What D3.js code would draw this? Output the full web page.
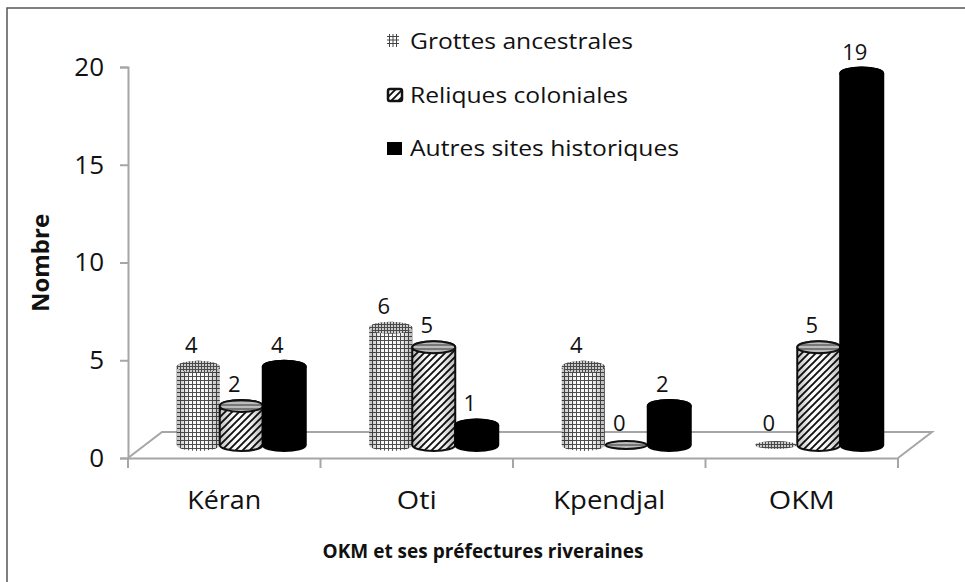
<!DOCTYPE html>
<html>
<head>
<meta charset="utf-8">
<script src="https://cdn.jsdelivr.net/npm/d3@7"></script>
<style>
  body { margin: 0; background: #fff; }
  svg text { font-family: "Open Sans", sans-serif; fill: #111; }
</style>
</head>
<body>
<div id="chart"></div>
<script>
// Data
const categories = ["Kéran", "Oti", "Kpendjal", "OKM"];
const seriesNames = ["Grottes ancestrales", "Reliques coloniales", "Autres sites historiques"];
const grottes = [4, 6, 4, 0];
const reliques = [2, 5, 0, 5];
const autres = [4, 1, 2, 19];
const yTicks = [0, 5, 10, 15, 20];

const width = 965, height = 582;
const depth = { dx: 34, dy: -26 };   // floor depth offset (front -> back)

// text widths of the original (its font is wider than ours)
const catTextWidth = { "Kéran": 74, "Oti": 40, "Kpendjal": 112, "OKM": 66 };
const legendTextWidth = [223, 218, 269];

const svg = d3.select("#chart").append("svg")
    .attr("width", width)
    .attr("height", height);

// patterns
const defs = svg.append("defs");
function pat(id, w, h, bg, path, stroke, sw) {
    const p = defs.append("pattern").attr("id", id)
        .attr("patternUnits", "userSpaceOnUse")
        .attr("width", w).attr("height", h);
    p.append("rect").attr("width", w).attr("height", h).attr("fill", bg);
    p.append("path").attr("d", path).attr("stroke", stroke).attr("stroke-width", sw).attr("fill", "none");
}
pat("grid", 4, 4, "#fff", "M0,0.5H4M0.5,0V4", "#505050", 1);
pat("gridTop", 3, 3, "#ccc", "M0,0.5H3M0.5,0V3", "#4a4a4a", 1);
pat("hatch", 7, 7, "#fff", "M-2,2L2,-2M0,7L7,0M5,9L9,5", "#111", 1.9);
pat("hatchTop", 4, 4, "#bbb", "M0,1H4", "#333", 1);

const shade = defs.append("linearGradient").attr("id", "shade");
[[0, 0.25], [0.35, 0], [0.7, 0.04], [1, 0.28]].forEach(([o, a]) =>
    shade.append("stop").attr("offset", o).attr("stop-color", "#000").attr("stop-opacity", a));

// scales: front plane (axis) and mid-depth plane (bars)
const xFront = d3.scaleBand().domain(categories).range([128, 898]);
const xMid = d3.scaleBand().domain(categories).range([128 + depth.dx / 2, 898 + depth.dx / 2]);
const xSeries = d3.scaleBand().domain(seriesNames).range([0, 129]);
const y = d3.scaleLinear().domain([0, 20]).range([458, 67]);
const yBar = d3.scaleLinear().domain([0, 20]).range([458 + depth.dy / 2, 67 + depth.dy / 2]);

// outer frame (top and left visible)
svg.append("path").attr("d", "M7,582V8H965").attr("fill", "none").attr("stroke", "#555").attr("stroke-width", 1.5);

// floor
const fx0 = xFront.range()[0], fx1 = xFront.range()[1], fy = y(0);
svg.append("path")
    .attr("d", `M${fx0},${fy}L${fx0 + depth.dx},${fy + depth.dy}L${fx1 + depth.dx},${fy + depth.dy}L${fx1},${fy}`)
    .attr("fill", "none").attr("stroke", "#a6a6a6").attr("stroke-width", 2);

// y axis
const yAxis = svg.append("g")
    .attr("transform", `translate(128,0)`)
    .call(d3.axisLeft(y).tickValues(yTicks).tickSize(8).tickPadding(16));
yAxis.select(".domain").attr("stroke", "#a6a6a6").attr("stroke-width", 2);
yAxis.selectAll(".tick line").attr("stroke", "#a6a6a6").attr("stroke-width", 2);
yAxis.selectAll(".tick text").style("font-size", "26px").attr("fill", "#111");

// x axis (front edge)
const xAxis = svg.append("g")
    .attr("transform", `translate(0,${fy})`)
    .call(d3.axisBottom(xFront).tickSize(0).tickPadding(33));
xAxis.select(".domain").attr("stroke", "#a6a6a6").attr("stroke-width", 2);
xAxis.selectAll(".tick text")
    .style("font-size", "25px").attr("fill", "#111")
    .attr("textLength", d => catTextWidth[d]).attr("lengthAdjust", "spacingAndGlyphs");
svg.append("g").selectAll("line")
    .data(categories.map(c => xFront(c)).concat([fx1]))
    .join("line")
    .attr("x1", d => d).attr("x2", d => d)
    .attr("y1", fy).attr("y2", fy + 10)
    .attr("stroke", "#a6a6a6").attr("stroke-width", 2);

// axis titles
svg.append("text")
    .attr("transform", "rotate(-90)")
    .attr("x", -263).attr("y", 49)
    .style("text-anchor", "middle").style("font-size", "24px").style("font-weight", "bold")
    .text("Nombre");
svg.append("text")
    .attr("x", 483).attr("y", 558)
    .style("text-anchor", "middle").style("font-size", "19px").style("font-weight", "bold")
    .text("OKM et ses préfectures riveraines");

// bars as cylinders
const styles = [
    { body: "url(#grid)", top: "url(#gridTop)", stroke: "none" },
    { body: "url(#hatch)", top: "url(#hatchTop)", stroke: "#111" },
    { body: "#000", top: "#000", stroke: "#000" }
];
const series = [grottes, reliques, autres];
const ry = 6;

const bars = [];
categories.forEach((c, i) => {
    series.forEach((vals, s) => {
        bars.push({ cat: c, s: s, value: vals[i] });
    });
});

const bw = xSeries.bandwidth();
const groupOffset = (xMid.bandwidth() - 129) / 2;

function cylPath(cx, rx, yT, yB) {
    return `M${cx - rx},${yT}L${cx - rx},${yB}A${rx},${ry} 0 0 0 ${cx + rx},${yB}` +
        `L${cx + rx},${yT}A${rx},${ry} 0 0 0 ${cx - rx},${yT}Z`;
}

const gBars = svg.append("g");
bars.forEach(d => {
    const cx = xMid(d.cat) + groupOffset + xSeries(seriesNames[d.s]) + bw / 2;
    const rx = bw / 2;
    const yB = yBar(0), yT = yBar(d.value);
    const st = styles[d.s];
    d.cx = cx; d.yT = yT;
    const g = gBars.append("g");
    if (d.value > 0) {
        g.append("path").attr("d", cylPath(cx, rx, yT, yB))
            .attr("fill", st.body).attr("stroke", st.stroke).attr("stroke-width", 2);
        if (d.s !== 2) {
            g.append("path").attr("d", cylPath(cx, rx, yT, yB))
                .attr("fill", "url(#shade)").attr("stroke", "none");
        }
        g.append("ellipse").attr("cx", cx).attr("cy", yT).attr("rx", rx).attr("ry", ry)
            .attr("fill", st.top).attr("stroke", st.stroke).attr("stroke-width", 2);
    } else {
        g.append("ellipse").attr("cx", cx).attr("cy", yB).attr("rx", rx - 1).attr("ry", ry - 2)
            .attr("fill", st.top).attr("stroke", st.stroke).attr("stroke-width", 2);
    }
});

// value labels
svg.append("g").selectAll("text")
    .data(bars)
    .join("text")
    .attr("x", d => d.cx - 7)
    .attr("y", d => d.yT - ry - 8)
    .style("text-anchor", "middle").style("font-size", "22px")
    .text(d => d.value);

// legend
const legend = svg.append("g").attr("transform", "translate(387,0)");
const legY = [49, 103, 156];
seriesNames.forEach((name, s) => {
    const yy = legY[s];
    if (s === 0) {
        legend.append("path")
            .attr("d", `M2.5,${yy - 15}V${yy - 2}M6,${yy - 15}V${yy - 2}M9.5,${yy - 15}V${yy - 2}` +
                `M0,${yy - 12.5}H12M0,${yy - 9}H12M0,${yy - 5.5}H12`)
            .attr("stroke", "#444").attr("stroke-width", 1).attr("fill", "none");
    } else if (s === 1) {
        legend.append("rect").attr("x", 1).attr("y", yy - 14).attr("width", 14).attr("height", 12)
            .attr("rx", 2).attr("fill", "url(#hatch)").attr("stroke", "#111").attr("stroke-width", 2.5);
    } else {
        legend.append("rect").attr("x", 0).attr("y", yy - 14).attr("width", 15).attr("height", 13)
            .attr("fill", "#000");
    }
    legend.append("text").attr("x", 23).attr("y", yy)
        .style("font-size", "21px")
        .attr("textLength", legendTextWidth[s]).attr("lengthAdjust", "spacingAndGlyphs")
        .text(name);
});
</script>
</body>
</html>
